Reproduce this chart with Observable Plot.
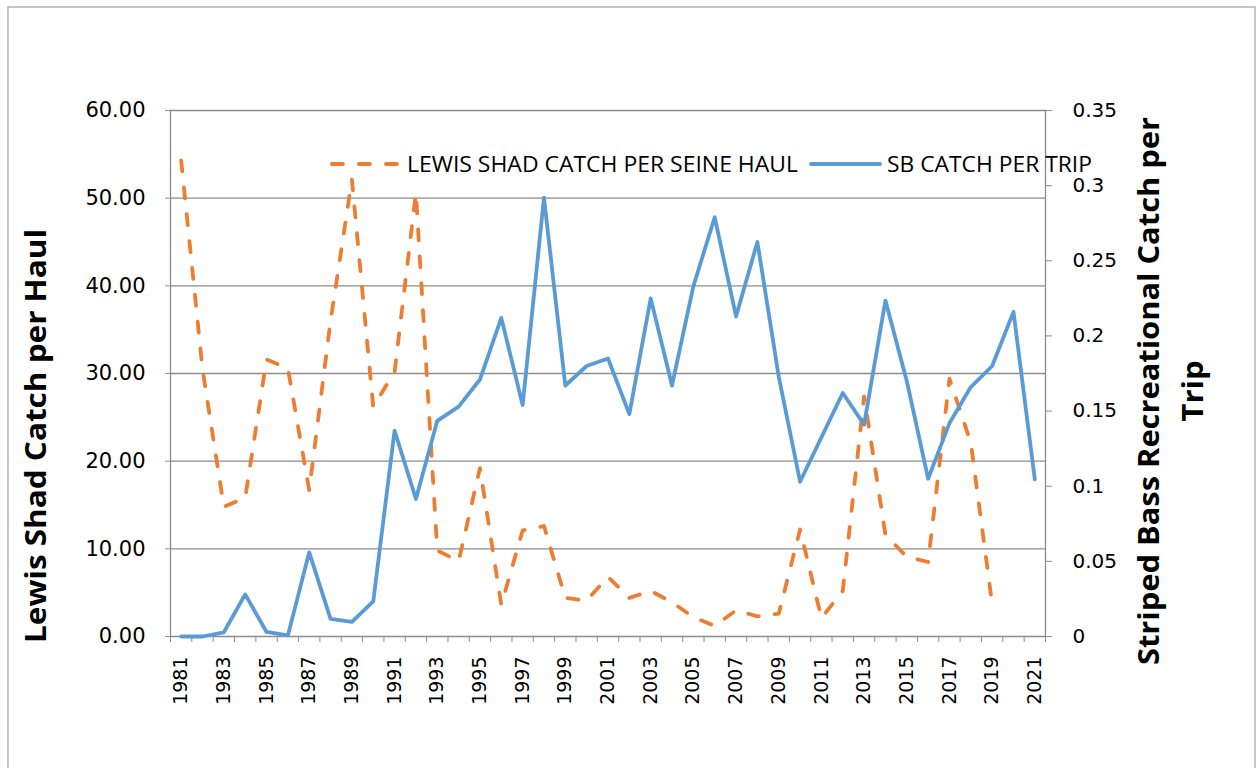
<!DOCTYPE html>
<html>
<head>
<meta charset="utf-8">
<script src="https://cdn.jsdelivr.net/npm/d3@7"></script>
<script src="https://cdn.jsdelivr.net/npm/@observablehq/plot@0.6"></script>
<style>
  html, body { margin: 0; padding: 0; background: #fff; }
  #chart { position: relative; width: 1259px; height: 768px; overflow: hidden; }
</style>
</head>
<body>
<div id="chart"></div>
<script>
// ---- data ----
const years = [1981,1982,1983,1984,1985,1986,1987,1988,1989,1990,
               1991,1992,1993,1994,1995,1996,1997,1998,1999,2000,
               2001,2002,2003,2004,2005,2006,2007,2008,2009,2010,
               2011,2012,2013,2014,2015,2016,2017,2018,2019,2020,2021];
const shadCatch = [54.3,30.5,14.8,15.8,31.6,30.6,16.7,36.0,52.1,26.2,
                   30.2,50.6,9.8,8.6,19.2,3.6,12.1,12.6,4.4,4.1,
                   6.8,4.4,5.2,3.9,2.2,1.2,3.0,2.3,2.6,12.2,
                   2.1,5.2,27.4,11.6,9.1,8.5,29.4,22.1,3.7,null,null];
const sbCatch = [0,0,0.0028,0.028,0.003,0.0007,0.056,0.0117,0.0098,0.0233,
                 0.137,0.0915,0.1435,0.153,0.171,0.212,0.154,0.292,0.167,0.180,
                 0.185,0.148,0.225,0.167,0.233,0.279,0.213,0.2625,0.173,0.103,
                 0.1325,0.162,0.141,0.2235,0.170,0.105,0.142,0.166,0.180,0.216,0.1045];
const leftTicks = [0,10,20,30,40,50,60];
const rightTicks = [0,0.05,0.1,0.15,0.2,0.25,0.3,0.35];
const yearLabels = [1981,1983,1985,1987,1989,1991,1993,1995,1997,1999,2001,
                    2003,2005,2007,2009,2011,2013,2015,2017,2019,2021];
const seriesNames = ["LEWIS SHAD CATCH PER SEINE HAUL","SB CATCH PER TRIP"];
const leftTitle = "Lewis Shad Catch per Haul";
const rightTitle = ["Striped Bass Recreational Catch per","Trip"];

const orange = "#ED7D31", blue = "#5B9BD5", grid = "#8C8C8C";
const leftMax = 60, rightMax = 0.35, k = leftMax / rightMax;

const rows = years.map((yr, i) => ({year: yr, shad: shadCatch[i], sb: sbCatch[i] == null ? null : sbCatch[i] * k}));
const boundaries = [years[0] - 0.5, ...years.map(y => y + 0.5)];

const chart = Plot.plot({
  width: 1259, height: 768,
  marginLeft: 170, marginRight: 214, marginTop: 110, marginBottom: 132,
  x: {type: "linear", domain: [years[0] - 0.5, years[years.length - 1] + 0.5], label: null},
  y: {domain: [0, leftMax], label: null},
  style: {fontFamily: "DejaVu Sans", fontSize: "20px", color: "#000", background: "#fff", overflow: "visible"},
  marks: [
    Plot.gridY(leftTicks.slice(1), {stroke: grid, strokeOpacity: 1, strokeWidth: 1.3}),
    Plot.frame({anchor: "left", stroke: grid, strokeWidth: 1.3}),
    Plot.frame({anchor: "right", stroke: grid, strokeWidth: 1.3}),
    Plot.ruleY([0], {stroke: grid, strokeWidth: 1.3}),
    Plot.axisY(leftTicks, {anchor: "left", tickSize: 5, tickPadding: 20, stroke: grid, fill: "#000",
      fontSize: 21, tickFormat: d => d.toFixed(2), label: null}),
    Plot.axisY(rightTicks.map(v => v * k), {anchor: "right", tickSize: 6, tickPadding: 21, stroke: grid, fill: "#000",
      fontSize: 20, tickFormat: d => d3.format("~g")(Math.round(d / k * 100) / 100), label: null}),
    Plot.axisX(boundaries, {anchor: "bottom", tickSize: 6, stroke: grid, tickFormat: () => "", label: null}),
    Plot.axisX(yearLabels, {anchor: "bottom", tickSize: 0, tickPadding: 20, tickRotate: -90, fill: "#000",
      fontSize: 19, tickFormat: d => String(d), label: null}),
    Plot.line(rows, {x: "year", y: "shad", stroke: orange, strokeWidth: 3.8, strokeDasharray: "11,16",
      strokeLinecap: "round", strokeLinejoin: "round"}),
    Plot.line(rows, {x: "year", y: "sb", stroke: blue, strokeWidth: 3.8,
      strokeLinecap: "round", strokeLinejoin: "round"})
  ]
});

document.getElementById("chart").appendChild(chart);

const svg = d3.select(chart);
// chart border
svg.insert("rect", ":first-child")
  .attr("x", 8).attr("y", 7).attr("width", 1247).attr("height", 790)
  .attr("fill", "none").attr("stroke", "#A6A6A6").attr("stroke-width", 1.3);

const titleFont = "'Open Sans', sans-serif";
// left axis title
svg.append("text")
  .attr("transform", "translate(46,436) rotate(-90)")
  .attr("text-anchor", "middle")
  .attr("font-family", titleFont).attr("font-weight", "bold").attr("font-size", 28)
  .attr("textLength", 414).attr("lengthAdjust", "spacingAndGlyphs")
  .attr("fill", "#000")
  .text(leftTitle);
// right axis title (two lines)
svg.append("text")
  .attr("transform", "translate(1159,391) rotate(-90)")
  .attr("text-anchor", "middle")
  .attr("font-family", titleFont).attr("font-weight", "bold").attr("font-size", 28)
  .attr("textLength", 548).attr("lengthAdjust", "spacingAndGlyphs")
  .attr("fill", "#000")
  .text(rightTitle[0]);
svg.append("text")
  .attr("transform", "translate(1203,391) rotate(-90)")
  .attr("text-anchor", "middle")
  .attr("font-family", titleFont).attr("font-weight", "bold").attr("font-size", 28)
  .attr("textLength", 61).attr("lengthAdjust", "spacingAndGlyphs")
  .attr("fill", "#000")
  .text(rightTitle[1]);

// legend
const lg = svg.append("g").attr("text-anchor", "start");
lg.append("line").attr("x1", 331.9).attr("x2", 400).attr("y1", 164).attr("y2", 164)
  .attr("stroke", orange).attr("stroke-width", 3.8).attr("stroke-dasharray", "11,16").attr("stroke-linecap", "round");
lg.append("text").attr("x", 407).attr("y", 172).attr("text-anchor", "start")
  .attr("font-family", titleFont).attr("font-size", 21).attr("fill", "#000")
  .attr("textLength", 391).attr("lengthAdjust", "spacingAndGlyphs")
  .text(seriesNames[0]);
lg.append("line").attr("x1", 811).attr("x2", 880).attr("y1", 164).attr("y2", 164)
  .attr("stroke", blue).attr("stroke-width", 3.8).attr("stroke-linecap", "round");
lg.append("text").attr("x", 887).attr("y", 172).attr("text-anchor", "start")
  .attr("font-family", titleFont).attr("font-size", 21).attr("fill", "#000")
  .attr("textLength", 205).attr("lengthAdjust", "spacingAndGlyphs")
  .text(seriesNames[1]);
</script>
</body>
</html>
